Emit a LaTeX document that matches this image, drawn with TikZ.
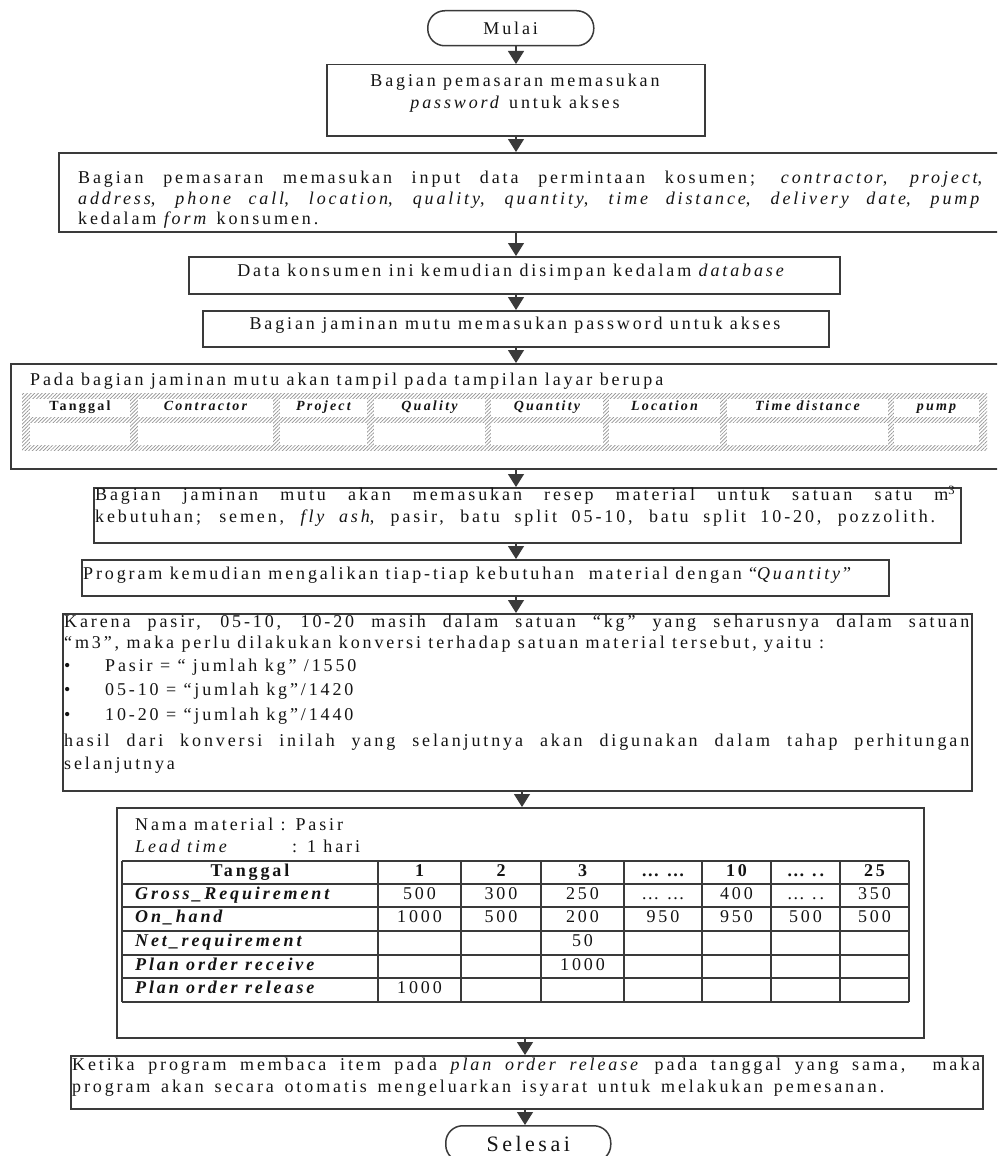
\documentclass[tikz,border=0pt]{standalone}
\usepackage{fontspec}
\setmainfont{Liberation Serif}[LetterSpace=16]
\usetikzlibrary{arrows.meta,patterns.meta}
\definecolor{ink}{HTML}{3A3A3A}
\definecolor{txtc}{HTML}{141414}
\tikzset{
  box/.style={draw=ink, line width=1.5pt, rectangle, inner sep=0pt, anchor=north west},
  term/.style={draw=ink, line width=1.5pt, rectangle, rounded corners=17pt, inner sep=0pt,
    anchor=north west, text=txtc, font=\fontsize{18}{22}\selectfont},
  txt/.style={inner sep=0pt, text=txtc, font=\fontsize{18}{22}\selectfont, anchor=mid west},
  ctxt/.style={txt, anchor=mid},
  hdr/.style={inner sep=0pt, text=txtc, font=\fontsize{14}{16}\selectfont\bfseries\itshape, anchor=mid},
  lbl/.style={txt, font=\fontsize{18}{22}\selectfont\bfseries\itshape, yshift=-1.5pt},
  num/.style={ctxt, yshift=-1.5pt},
  arr/.style={draw=ink, line width=1.2pt, -{Triangle[width=16pt,length=13pt]}},
  grid/.style={draw=ink, line width=1.3pt},
  hatch/.style={pattern={Lines[angle=45,distance=2.6pt,line width=0.7pt]}, pattern color=gray!85},
}
\begin{document}
\begin{tikzpicture}[x=1pt,y=-1pt]
\useasboundingbox (0,0) rectangle (997,1156);
\clip (0,0) rectangle (997,1156);
\fill[white] (0,0) rectangle (997,1156);

% flow axis
\coordinate (ax1) at (516,0);
\coordinate (ax2) at (522,0);
\coordinate (ax3) at (525,0);

% start
\node[term, minimum width=166pt, minimum height=35pt] (start) at (427,10) {Mulai};

% marketing login
\node[box, minimum width=378pt, minimum height=71pt] (b2) at (326,64) {};
\node[ctxt] (t2a) at (515,84) {Bagian pemasaran memasukan};
\node[ctxt] (t2b) at (515,106) {\textit{password} untuk akses};

% customer order form
\node[box, minimum width=960pt, minimum height=79pt] (b3) at (58,152) {};
\node[txt] (t3a) at (78,181) {\makebox[904pt][s]{Bagian pemasaran memasukan input data permintaan kosumen; \textit{contractor}, \textit{project},}};
\node[txt] (t3b) at (78,202) {\makebox[904pt][s]{\textit{address}, \textit{phone call}, \textit{location}, \textit{quality}, \textit{quantity}, \textit{time distance}, \textit{delivery date}, \textit{pump}}};
\node[txt] (t3c) at (78,222) {kedalam \textit{form} konsumen.};

% database
\node[box, minimum width=651pt, minimum height=37pt] (b4) at (188,256) {};
\node[ctxt] (t4) at (512,274) {Data konsumen ini kemudian disimpan kedalam \textit{database}};

% quality login
\node[box, minimum width=626pt, minimum height=36pt] (b5) at (202,310) {};
\node[ctxt] (t5) at (515,327) {Bagian jaminan mutu memasukan password untuk akses};

% screen view
\node[box, minimum width=1000pt, minimum height=105pt] (b6) at (10,363) {};
\node[txt] (t6) at (30,383) {Pada bagian jaminan mutu akan tampil pada tampilan layar berupa};
\fill[hatch] (22,393) rectangle (987,450);
\foreach \a/\b/\h/\n in {30/130/{\upshape Tanggal}/c1, 138/273/Contractor/c2, 280/367/Project/c3,
    374/485/Quality/c4, 491/603/Quantity/c5, 609/720/Location/c6, 727/888/Time distance/c7, 894/979/pump/c8}{
  \fill[white] (\a,399) rectangle (\b,417);
  \fill[white] (\a,423) rectangle (\b,445);
  \node[hdr] (\n) at ({(\a+\b)/2},408) {\h};
}

% recipe
\node[box, minimum width=867pt, minimum height=55pt] (b7) at (93,487) {};
\node[txt] (t7a) at (95,498) {\makebox[860pt][s]{Bagian jaminan mutu akan memasukan resep material untuk satuan satu m\textsuperscript{3}}};
\node[txt] (t7b) at (95,520) {\makebox[840pt][s]{kebutuhan; semen, \textit{fly ash}, pasir, batu split 05-10, batu split 10-20, pozzolith.}};

% multiply
\node[box, minimum width=807pt, minimum height=36pt] (b8) at (81,559) {};
\node[txt] (t8) at (83,577) {Program kemudian mengalikan tiap-tiap kebutuhan\ \ material dengan “\textit{Quantity}”};

% conversion
\node[box, minimum width=909pt, minimum height=177pt] (b9) at (62,613) {};
\node[txt] (t9a) at (64,625) {\makebox[905pt][s]{Karena pasir, 05-10, 10-20 masih dalam satuan “kg” yang seharusnya dalam satuan}};
\node[txt] (t9b) at (64,646) {“m3”, maka perlu dilakukan konversi terhadap satuan material tersebut, yaitu :};
\node[txt] (d1) at (64,669) {•};
\node[txt] (t9c) at (105,669) {Pasir = “ jumlah kg” /1550};
\node[txt] (d2) at (64,693) {•};
\node[txt] (t9d) at (105,693) {05-10 = “jumlah kg”/1420};
\node[txt] (d3) at (64,718) {•};
\node[txt] (t9e) at (105,718) {10-20 = “jumlah kg”/1440};
\node[txt] (t9f) at (64,744) {\makebox[905pt][s]{hasil dari konversi inilah yang selanjutnya akan digunakan dalam tahap perhitungan}};
\node[txt] (t9g) at (64,767) {selanjutnya};

% material table
\node[box, minimum width=807pt, minimum height=230pt] (b10) at (116,807) {};
\node[txt] (t10a) at (135,828) {Nama material : Pasir};
\node[txt] (t10b) at (135,850) {\textit{Lead time}};
\node[txt] (t10c) at (292,850) {: 1 hari};
\foreach \yy in {861,884,907,931,955,978,1002} \draw[grid] (122,\yy) -- (909,\yy);
\foreach \xx in {122,378,461,541,624,702,771,840,909} \draw[grid] (\xx,861) -- (\xx,1002);
\node[num, font=\fontsize{18}{22}\selectfont\bfseries] (h0) at (250,872.5) {Tanggal};
\foreach \cx/\v/\n in {419.5/1/a, 501/2/b, 582.5/3/c, 663/{… …}/d, 736.5/10/e, 805.5/{… ..}/f, 874.5/25/g}
  \node[num, font=\fontsize{18}{22}\selectfont\bfseries] (h\n) at (\cx,872.5) {\v};
\node[lbl] (l1) at (135,895.5) {Gross\_Requirement};
\node[lbl] (l2) at (135,919) {On\_hand};
\node[lbl] (l3) at (135,943) {Net\_requirement};
\node[lbl] (l4) at (135,966.5) {Plan order receive};
\node[lbl] (l5) at (135,990) {Plan order release};
\foreach \cx/\v/\n in {419.5/500/a, 501/300/b, 582.5/250/c, 663/{… …}/d, 736.5/400/e, 805.5/{… ..}/f, 874.5/350/g}
  \node[num] (g\n) at (\cx,895.5) {\v};
\foreach \cx/\v/\n in {419.5/1000/a, 501/500/b, 582.5/200/c, 663/950/d, 736.5/950/e, 805.5/500/f, 874.5/500/g}
  \node[num] (o\n) at (\cx,919) {\v};
\node[num] (n3) at (582.5,943) {50};
\node[num] (p3) at (582.5,966.5) {1000};
\node[num] (r1) at (419.5,990) {1000};

% order signal
\node[box, minimum width=912pt, minimum height=53pt] (b11) at (70,1055) {};
\node[txt] (t11a) at (72,1068) {\makebox[908pt][s]{Ketika program membaca item pada \textit{plan order release} pada tanggal yang sama,\ \ maka}};
\node[txt] (t11b) at (72,1090) {\makebox[812pt][s]{program akan secara otomatis mengeluarkan isyarat untuk melakukan pemesanan.}};

% end
\node[term, minimum width=165pt, minimum height=36pt, font=\fontsize{22}{26}\selectfont] (stop) at (445,1125) {Selesai};

% connectors
\draw[arr] (start.south -| ax1) -- (b2.north -| ax1);
\draw[arr] (b2.south -| ax1) -- (b3.north -| ax1);
\draw[arr] (b3.south -| ax1) -- (b4.north -| ax1);
\draw[arr] (b4.south -| ax1) -- (b5.north -| ax1);
\draw[arr] (b5.south -| ax1) -- (b6.north -| ax1);
\draw[arr] (b6.south -| ax1) -- (b7.north -| ax1);
\draw[arr] (b7.south -| ax1) -- (b8.north -| ax1);
\draw[arr] (b8.south -| ax1) -- (b9.north -| ax1);
\draw[arr] (b9.south -| ax2) -- (b10.north -| ax2);
\draw[arr] (b10.south -| ax3) -- (b11.north -| ax3);
\draw[arr] (b11.south -| ax3) -- (stop.north -| ax3);
\end{tikzpicture}
\end{document}
